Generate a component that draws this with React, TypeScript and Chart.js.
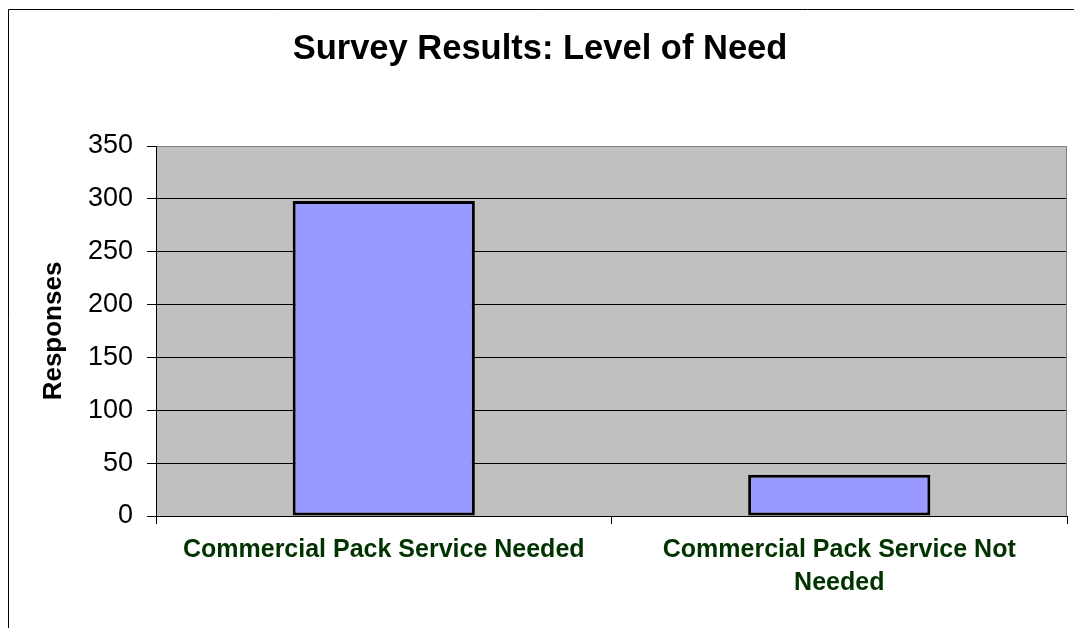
import React, { useEffect, useRef } from "react";
import { Chart, registerables } from "chart.js";

Chart.register(...registerables);

const chartTitle = "Survey Results: Level of Need";
const yAxisTitle = "Responses";
const categories: (string | string[])[] = [
  "Commercial Pack Service Needed",
  ["Commercial Pack Service Not", "Needed"],
];
const responses = [298, 39];
const yMin = 0;
const yMax = 350;
const yStep = 50;

const FONT = "'Liberation Sans', Arial, sans-serif";

const decorPlugin = {
  id: "decor",
  beforeDraw(chart: any) {
    const { ctx, chartArea } = chart;
    const { left, top, right, bottom } = chartArea;
    ctx.save();
    ctx.fillStyle = "#ffffff";
    ctx.fillRect(0, 0, chart.width, chart.height);
    ctx.fillStyle = "#C0C0C0";
    ctx.fillRect(left, top, right - left, bottom - top);
    // outer frame (left & top visible)
    ctx.strokeStyle = "#000000";
    ctx.lineWidth = 1;
    ctx.beginPath();
    ctx.moveTo(8.5, chart.height);
    ctx.lineTo(8.5, 9.5);
    ctx.lineTo(chart.width, 9.5);
    ctx.stroke();
    ctx.restore();
  },
  beforeDatasetsDraw(chart: any) {
    const { ctx, chartArea } = chart;
    const { top, right, bottom } = chartArea;
    ctx.save();
    ctx.strokeStyle = "#808080";
    ctx.lineWidth = 1;
    ctx.beginPath();
    ctx.moveTo(Math.round(right) - 0.5, top);
    ctx.lineTo(Math.round(right) - 0.5, bottom);
    ctx.stroke();
    ctx.restore();
  },
};

export default function App() {
  const canvasRef = useRef<HTMLCanvasElement | null>(null);

  useEffect(() => {
    if (!canvasRef.current) return;
    const chart = new Chart(canvasRef.current, {
      type: "bar",
      data: {
        labels: categories,
        datasets: [
          {
            label: yAxisTitle,
            data: responses,
            backgroundColor: "#9999FF",
            borderColor: "#000000",
            borderWidth: 3,
            borderSkipped: false,
            categoryPercentage: 1,
            barPercentage: 0.4,
          },
        ],
      },
      options: {
        animation: false,
        responsive: false,
        devicePixelRatio: 1,
        layout: { padding: { left: 13, right: 7, top: 0, bottom: 0 } },
        plugins: {
          legend: { display: false },
          tooltip: { enabled: false },
          title: {
            display: true,
            text: chartTitle,
            color: "#000000",
            font: { family: FONT, size: 34.5, weight: "bold", lineHeight: 1.2 },
            padding: { top: 28.35, bottom: 76.25 },
          },
        },
        scales: {
          x: {
            afterFit: (scale: any) => {
              scale.height = 112;
            },
            grid: {
              offset: true,
              drawOnChartArea: false,
              drawTicks: true,
              tickLength: 8,
              tickColor: "#000000",
              color: "#000000",
            },
            border: { display: true, color: "#000000", width: 1 },
            ticks: {
              color: "#003300",
              padding: 9.3,
              maxRotation: 0,
              minRotation: 0,
              autoSkip: false,
              font: { family: FONT, size: 25, weight: "bold", lineHeight: 1.32 },
            },
          },
          y: {
            min: yMin,
            max: yMax,
            afterFit: (scale: any) => {
              scale.width = 143;
            },
            grid: {
              color: (c: any) => (c.tick && c.tick.value === yMax ? "#808080" : "#000000"),
              tickColor: "#000000",
              tickLength: 9,
              lineWidth: 1,
            },
            border: { display: true, color: "#000000", width: 1 },
            ticks: {
              stepSize: yStep,
              color: "#000000",
              padding: 14,
              font: { family: FONT, size: 27 },
            },
            title: {
              display: true,
              text: yAxisTitle,
              color: "#000000",
              font: { family: FONT, size: 26, weight: "bold", lineHeight: 1.2 },
              padding: { top: 25, bottom: 0 },
            },
          },
        },
      },
      plugins: [decorPlugin],
    });
    return () => chart.destroy();
  }, []);

  return (
    <div style={{ position: "fixed", left: 0, top: 0, width: 1074, height: 628 }}>
      <canvas ref={canvasRef} width={1074} height={628} />
    </div>
  );
}
